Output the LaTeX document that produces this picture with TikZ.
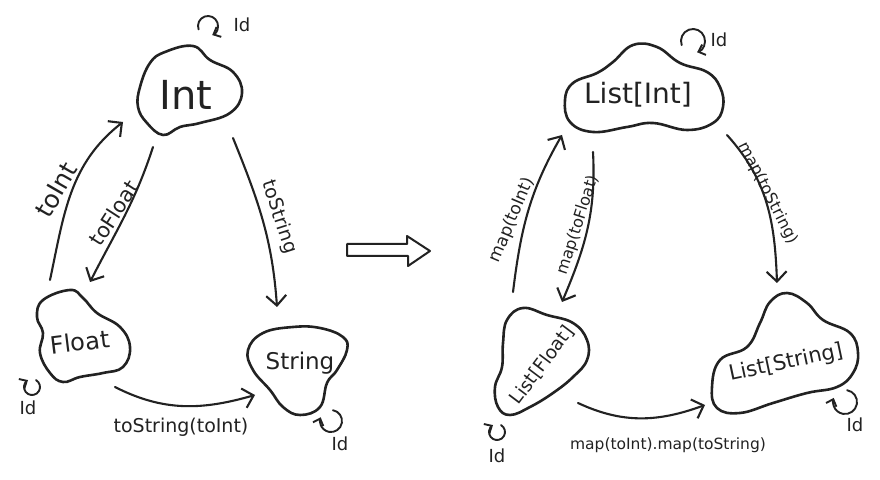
\documentclass[tikz,border=0pt]{standalone}
\usepackage{fontspec}
\setmainfont{DejaVu Sans}
\usetikzlibrary{arrows.meta}
\definecolor{inkc}{RGB}{34,34,34}
\newcommand{\fs}[1]{\fontsize{#1}{#1}\selectfont}
\tikzset{
  ink/.style={draw=inkc, line cap=round, line join=round},
  blob/.style={ink, line width=2.6pt},
  arr/.style={ink, line width=2.1pt, -{Straight Barb[length=10pt,width=20pt]}},
  looparr/.style={ink, line width=1.9pt, -{Straight Barb[length=6pt,width=11pt]}},
  txt/.style={text=inkc, inner sep=0pt},
  elbl/.style={text=inkc, inner sep=0pt}
}
\begin{document}
\begin{tikzpicture}[x=1pt,y=1pt]
\fill[white] (0,0) rectangle (880,479);
\useasboundingbox (0,0) rectangle (880,479);

% ---------- blobs ----------
\draw[blob] plot[smooth cycle, tension=0.7] coordinates {(165,427)(193,433)(210,419)(233,407)(242,386)(230,366)(200,356)(180,352)(163,344)(147,356)(138,372)(140,392)(150,416)};
\draw[blob] plot[smooth cycle, tension=0.7] coordinates {(70,189)(83,181)(97,166)(120,152)(130,132)(123,112)(103,106)(80,102)(63,97)(50,106)(40,126)(43,146)(37,162)(43,179)};
\draw[blob] plot[smooth cycle, tension=0.7] coordinates {(263,146)(293,152)(320,151)(343,142)(347,129)(337,109)(327,96)(320,72)(300,64)(283,72)(270,89)(253,109)(248,129)};
\draw[blob] plot[smooth cycle, tension=0.7] coordinates {(613,417)(633,434)(657,432)(680,416)(707,407)(720,392)(723,372)(713,356)(687,349)(653,356)(627,352)(593,347)(570,357)(565,379)(573,396)(597,406)};
\draw[blob] plot[smooth cycle, tension=0.7] coordinates {(523,171)(547,164)(573,156)(587,139)(587,119)(573,102)(553,86)(530,72)(510,64)(498,72)(495,92)(502,112)(503,136)(507,159)};
\draw[blob] plot[smooth cycle, tension=0.7] coordinates {(787,186)(807,176)(823,159)(850,146)(858,126)(853,106)(837,92)(807,86)(773,76)(740,66)(717,71)(712,92)(720,119)(747,132)(760,156)(770,177)};

% ---------- node texts ----------
\node[txt, font=\fs{40}] (int) at (186,384) {Int};
\node[txt, font=\fs{24}, rotate=7] (float) at (80,137) {Float};
\node[txt, font=\fs{23}] (string) at (300,116) {String};
\node[txt, font=\fs{28}] (lint) at (638,384) {List[Int]};
\node[txt, font=\fs{18.5}, rotate=53] (lfloat) at (542,114) {List[Float]};
\node[txt, font=\fs{21}, rotate=12] (lstring) at (786,116) {List[String]};

% ---------- left connectors ----------
\draw[arr] ([shift={(-30,62)}]float.center) to[out=78,in=218] ([shift={(-63,-27)}]int.center);
\draw[arr] ([shift={(-33,-52)}]int.center) to[out=252,in=63] ([shift={(10,60)}]float.center);
\draw[arr] ([shift={(47,-43)}]int.center) to[out=292,in=94] ([shift={(-23,56)}]string.center);
\draw[arr] ([shift={(35,-45)}]float.center) to[out=333,in=196] ([shift={(-45,-32)}]string.center);

\node[elbl, font=\fs{25}, rotate=60] (lbltoint) at (56,289) {toInt};
\node[elbl, font=\fs{21}, rotate=57] (lbltofloat) at (114,266) {toFloat};
\node[elbl, font=\fs{19}, rotate=-72] (lbltostring) at (279,262) {toString};
\node[elbl, font=\fs{19}] (lbltostrint) at (181,52) {toString(toInt)};

% ---------- right connectors ----------
\draw[arr] ([shift={(-29,73)}]lfloat.center) to[out=83,in=240] ([shift={(-76,-40)}]lint.center);
\draw[arr] ([shift={(-45,-57)}]lint.center) to[out=273,in=67] ([shift={(20,63)}]lfloat.center);
\draw[arr] ([shift={(89,-40)}]lint.center) to[out=312,in=92] ([shift={(-9,80)}]lstring.center);
\draw[arr] ([shift={(36,-38)}]lfloat.center) to[out=335,in=200] ([shift={(-81,-42)}]lstring.center);

\node[elbl, font=\fs{17}, rotate=67] (lblmapint) at (512,259) {map(toInt)};
\node[elbl, font=\fs{16}, rotate=72] (lblmapfloat) at (578,254) {map(toFloat)};
\node[elbl, font=\fs{16}, rotate=-63] (lblmapstring) at (768,286) {map(toString)};
\node[elbl, font=\fs{15.5}] (lblmapboth) at (668,34) {map(toInt).map(toString)};

% ---------- identity loops ----------
\draw[looparr] ([shift={(12.6,65.6)}]int.center) arc[start angle=200, end angle=-65, radius=10];
\node[elbl, font=\fs{18}] (idint) at (242,454) {Id};
\draw[looparr] ([shift={(-44,-38.1)}]float.center) arc[start angle=60, end angle=-240, radius=8];
\node[elbl, font=\fs{18}] (idfloat) at (28,71) {Id};
\draw[looparr] ([shift={(32.9,-47.2)}]string.center) arc[start angle=80, end angle=-200, radius=11];
\node[elbl, font=\fs{18}] (idstring) at (340,35) {Id};

\draw[looparr] ([shift={(43.7,49.9)}]lint.center) arc[start angle=200, end angle=-70, radius=12];
\node[elbl, font=\fs{18}] (idlint) at (719,439) {Id};
\draw[looparr] ([shift={(-41,-60.1)}]lfloat.center) arc[start angle=60, end angle=-240, radius=8];
\node[elbl, font=\fs{18}] (idlfloat) at (497,23) {Id};
\draw[looparr] ([shift={(61.1,-27.2)}]lstring.center) arc[start angle=80, end angle=-200, radius=12];
\node[elbl, font=\fs{18}] (idlstring) at (855,54) {Id};

% ---------- big hollow arrow ----------
\draw[ink, line width=2pt] (347,235) -- (407,235) -- (407,243) -- (430,228) -- (408,213) -- (408,223) -- (347,223) -- cycle;
\end{tikzpicture}
\end{document}
